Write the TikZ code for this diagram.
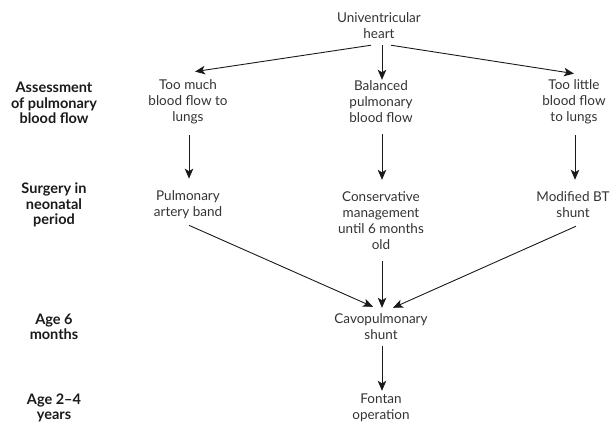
\documentclass[tikz,border=0pt]{standalone}
\usepackage{fontspec}
\setmainfont{Lato}
\usetikzlibrary{arrows.meta,calc}
\definecolor{txt}{HTML}{333333}
\definecolor{ink}{HTML}{1A1A1A}
\tikzset{
  box/.style={align=center, inner sep=0pt, text=txt, font=\fontsize{13.5}{16}\selectfont},
  lab/.style={align=center, inner sep=0pt, text=ink, font=\fontsize{14.5}{15.5}\selectfont\bfseries},
  arr/.style={draw=ink, line width=0.9pt, -{Stealth[length=10pt,width=8.5pt,inset=2.5pt]}}
}
\begin{document}
\begin{tikzpicture}[x=1pt,y=-1pt]
\useasboundingbox (0,0) rectangle (612,423);
% main nodes
\node[box] (heart) at (379,26) {Univentricular\\heart};
\node[box] (toomuch) at (188,102) {Too much\\blood flow to\\lungs};
\node[box] (balanced) at (381,102) {Balanced\\pulmonary\\blood flow};
\node[box] (toolittle) at (574,102) {Too little\\blood flow\\to lungs};
\node[box] (pab) at (188,205) {Pulmonary\\artery band};
\node[box] (cons) at (381,221) {Conservative\\management\\until 6 months\\old};
\node[box] (mbt) at (573,205) {Modified BT\\shunt};
\node[box] (cavo) at (381,327) {Cavopulmonary\\shunt};
\node[box] (fontan) at (381,408) {Fontan\\operation};
% side labels
\node[lab] (l1) at (54,103) {Assessment\\of pulmonary\\blood flow};
\node[lab] (l2) at (54,205) {Surgery in\\neonatal\\period};
\node[lab] (l3) at (54,327) {Age 6\\months};
\node[lab] (l4) at (54,408) {Age 2--4\\years};
% connectors
\draw[arr] ([xshift=-8pt,yshift=-6pt]heart.south) -- ([xshift=7pt,yshift=8pt]toomuch.north);
\draw[arr] ([xshift=3pt,yshift=-6pt]heart.south) -- ([xshift=1pt,yshift=1pt]balanced.north);
\draw[arr] ([xshift=12pt,yshift=-6pt]heart.south) -- ([xshift=0pt,yshift=6pt]toolittle.north);
\draw[arr] ([xshift=1pt,yshift=-11pt]toomuch.south) -- ([xshift=1pt,yshift=12pt]pab.north);
\draw[arr] ([xshift=1pt,yshift=-11pt]balanced.south) -- ([xshift=1pt,yshift=12pt]cons.north);
\draw[arr] ([xshift=1pt,yshift=-11pt]toolittle.south) -- ([xshift=2pt,yshift=12pt]mbt.north);
\draw[arr] ([xshift=1pt,yshift=-6pt]pab.south) -- ([xshift=-8pt,yshift=7pt]cavo.north);
\draw[arr] ([xshift=1pt,yshift=-11pt]cons.south) -- ([xshift=1pt,yshift=6pt]cavo.north);
\draw[arr] ([xshift=3pt,yshift=-8pt]mbt.south) -- ([xshift=12pt,yshift=6pt]cavo.north);
\draw[arr] ([xshift=1pt,yshift=-6pt]cavo.south) -- ([xshift=1pt,yshift=3pt]fontan.north);
\end{tikzpicture}
\end{document}
